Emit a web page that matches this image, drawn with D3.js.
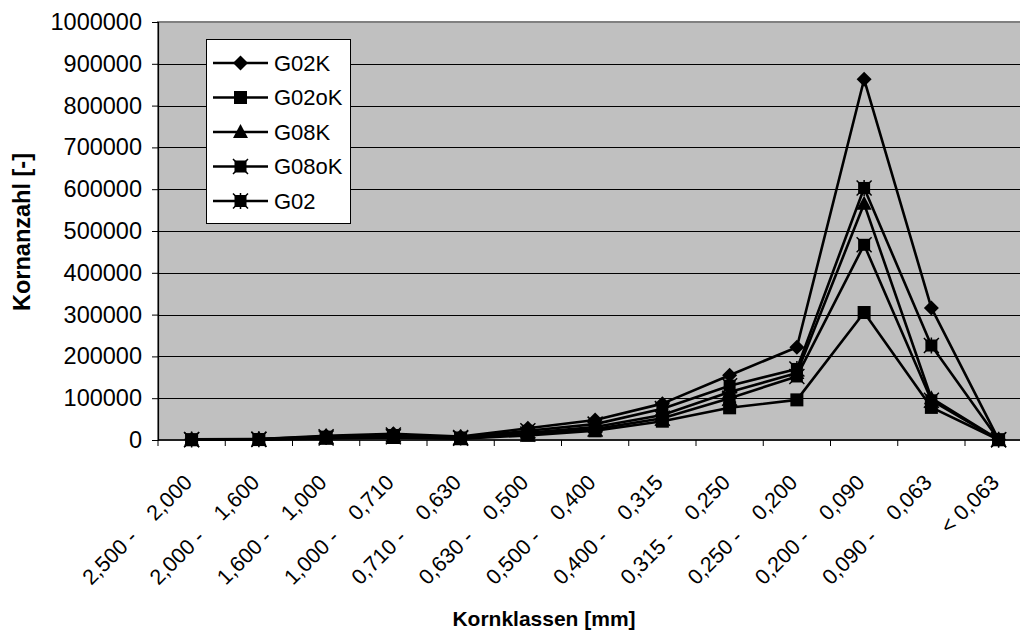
<!DOCTYPE html>
<html>
<head>
<meta charset="utf-8">
<script src="https://cdn.jsdelivr.net/npm/d3@7"></script>
<style>
  html, body { margin: 0; padding: 0; background: #fff; }
  svg { display: block; font-family: "Liberation Sans", Arial, sans-serif; }
</style>
</head>
<body>
<svg id="chart" width="1020" height="634"></svg>
<script>
// Grain size classes (mm); the gap after the dash uses non-breaking spaces
const NB = "\u00a0";
const categories = [
  "2,500 -    2,000", "2,000 -    1,600", "1,600 -    1,000", "1,000 -    0,710",
  "0,710 -    0,630", "0,630 -    0,500", "0,500 -    0,400", "0,400 -    0,315",
  "0,315 -    0,250", "0,250 -    0,200", "0,200 -    0,090", "0,090 -    0,063",
  "< 0,063"
];

// Grain counts per class
const g02k  = [1500, 2500, 10000, 15000, 8000, 28000, 48000, 87000, 155000, 222000, 863000, 316000, 1000];
const g02ok = [500, 1000, 4000, 6000, 3000, 11000, 22000, 45000, 77000, 96000, 305000, 78000, 500];
const g08k  = [1000, 1800, 7000, 10000, 5000, 17000, 31000, 60000, 115000, 160000, 565000, 100000, 800];
const g08ok = [800, 1500, 5000, 8000, 4000, 14000, 26000, 52000, 100000, 152000, 467000, 95000, 600];
const g02   = [1200, 2000, 8000, 12000, 6000, 22000, 38000, 75000, 130000, 170000, 603000, 226000, 700];

const seriesNames = ["G02K", "G02oK", "G08K", "G08oK", "G02"];
const seriesValues = [g02k, g02ok, g08k, g08ok, g02];
const markerTypes = ["diamond", "square", "triangle", "xsquare", "starsquare"];

const yTicks = [0, 100000, 200000, 300000, 400000, 500000, 600000, 700000, 800000, 900000, 1000000];

const svg = d3.select("#chart");
const plot = { left: 158, top: 22, bottom: 440, step: 67.25 };
plot.right = plot.left + plot.step * categories.length;

const x = d3.scaleBand().domain(categories).range([plot.left, plot.right]).paddingInner(0).paddingOuter(0);
const y = d3.scaleLinear().domain([0, 1000000]).range([plot.bottom, plot.top]);
const cx = c => x(c) + x.bandwidth() / 2;

// Plot area background
svg.append("rect")
  .attr("x", plot.left).attr("y", plot.top)
  .attr("width", plot.right - plot.left).attr("height", plot.bottom - plot.top)
  .attr("fill", "#c0c0c0").attr("stroke", "#808080").attr("stroke-width", 2);

// Horizontal gridlines
svg.append("g").selectAll("line").data(yTicks.filter(d => d > 0 && d < 1000000)).join("line")
  .attr("x1", plot.left).attr("x2", plot.right)
  .attr("y1", d => Math.round(y(d)) + 0.5).attr("y2", d => Math.round(y(d)) + 0.5)
  .attr("stroke", "#000").attr("stroke-width", 1);

// Y axis
const yAxis = svg.append("g")
  .attr("transform", `translate(${plot.left},0)`)
  .call(d3.axisLeft(y).tickValues(yTicks).tickFormat(d3.format("d")).tickSize(6).tickPadding(10));
yAxis.select(".domain").attr("stroke", "#000").attr("stroke-width", 1.2);
yAxis.selectAll(".tick line").attr("stroke", "#000");
yAxis.selectAll("text").attr("font-size", 23.5).attr("fill", "#000")
  .attr("font-family", "Liberation Sans, Arial, sans-serif");

// X axis (ticks between categories)
const xAxisG = svg.append("g").attr("transform", `translate(0,${plot.bottom})`);
xAxisG.append("line").attr("x1", plot.left).attr("x2", plot.right).attr("y1", 0).attr("y2", 0)
  .attr("stroke", "#000").attr("stroke-width", 1.5);
xAxisG.selectAll("line.tk").data(d3.range(categories.length + 1)).join("line")
  .attr("class", "tk")
  .attr("x1", i => plot.left + i * x.step()).attr("x2", i => plot.left + i * x.step())
  .attr("y1", 0).attr("y2", 6).attr("stroke", "#000");
xAxisG.selectAll("text").data(categories).join("text")
  .attr("transform", d => `translate(${cx(d) - 9},${33}) rotate(-45)`)
  .attr("text-anchor", "end")
  .attr("dy", "0.71em")
  .attr("font-size", 21.5)
  .attr("fill", "#000")
  .text(d => d.replace(/ {2,}/g, m => " " + NB.repeat(m.length - 1)));

// Axis titles
svg.append("text")
  .attr("transform", `translate(30,232) rotate(-90)`)
  .attr("text-anchor", "middle").attr("font-weight", "bold").attr("font-size", 23.5)
  .text("Kornanzahl [-]");
svg.append("text")
  .attr("x", 544).attr("y", 626)
  .attr("text-anchor", "middle").attr("font-weight", "bold").attr("font-size", 21)
  .text("Kornklassen [mm]");

// Marker drawing
function drawMarker(g, type, px, py) {
  const s = 6.5;
  if (type === "diamond") {
    g.append("path").attr("d", `M${px},${py - 7.5}L${px + 7.5},${py}L${px},${py + 7.5}L${px - 7.5},${py}Z`).attr("fill", "#000");
  } else if (type === "square") {
    g.append("rect").attr("x", px - s).attr("y", py - s).attr("width", 2 * s).attr("height", 2 * s).attr("fill", "#000");
  } else if (type === "triangle") {
    g.append("path").attr("d", `M${px},${py - 8}L${px + 7.5},${py + 6}L${px - 7.5},${py + 6}Z`).attr("fill", "#000");
  } else if (type === "xsquare") {
    g.append("rect").attr("x", px - 6).attr("y", py - 6).attr("width", 12).attr("height", 12).attr("fill", "#000");
    g.append("path").attr("d", `M${px - 7.5},${py - 7.5}L${px + 7.5},${py + 7.5}M${px + 7.5},${py - 7.5}L${px - 7.5},${py + 7.5}`)
      .attr("stroke", "#000").attr("stroke-width", 1.5);
  } else {
    g.append("rect").attr("x", px - 6).attr("y", py - 6).attr("width", 12).attr("height", 12).attr("fill", "#000");
    g.append("path").attr("d", `M${px - 7.5},${py - 7.5}L${px + 7.5},${py + 7.5}M${px + 7.5},${py - 7.5}L${px - 7.5},${py + 7.5}M${px},${py - 8}L${px},${py + 8}`)
      .attr("stroke", "#000").attr("stroke-width", 1.5);
  }
}

// Series lines and markers
const line = d3.line().x((d, i) => cx(categories[i])).y(d => y(d));
seriesValues.forEach((vals, k) => {
  const g = svg.append("g");
  g.append("path").datum(vals).attr("d", line)
    .attr("fill", "none").attr("stroke", "#000").attr("stroke-width", 2.6).attr("stroke-linejoin", "round");
  vals.forEach((v, i) => drawMarker(g, markerTypes[k], cx(categories[i]), y(v)));
});

// Legend
const lg = svg.append("g");
const lgBox = { x: 206, y: 39, w: 144, h: 184, step: 34.5, first: 63 };
lg.append("rect").attr("x", lgBox.x + 0.5).attr("y", lgBox.y + 0.5).attr("width", lgBox.w).attr("height", lgBox.h)
  .attr("fill", "#fff").attr("stroke", "#000").attr("stroke-width", 1);
seriesNames.forEach((name, k) => {
  const ly = lgBox.first + k * lgBox.step;
  lg.append("line").attr("x1", 213).attr("x2", 268).attr("y1", ly).attr("y2", ly)
    .attr("stroke", "#000").attr("stroke-width", 2.6);
  drawMarker(lg, markerTypes[k], 240.5, ly);
  lg.append("text").attr("x", 274).attr("y", ly).attr("dy", "0.36em")
    .attr("font-size", 22).attr("fill", "#000").text(name);
});
</script>
</body>
</html>
